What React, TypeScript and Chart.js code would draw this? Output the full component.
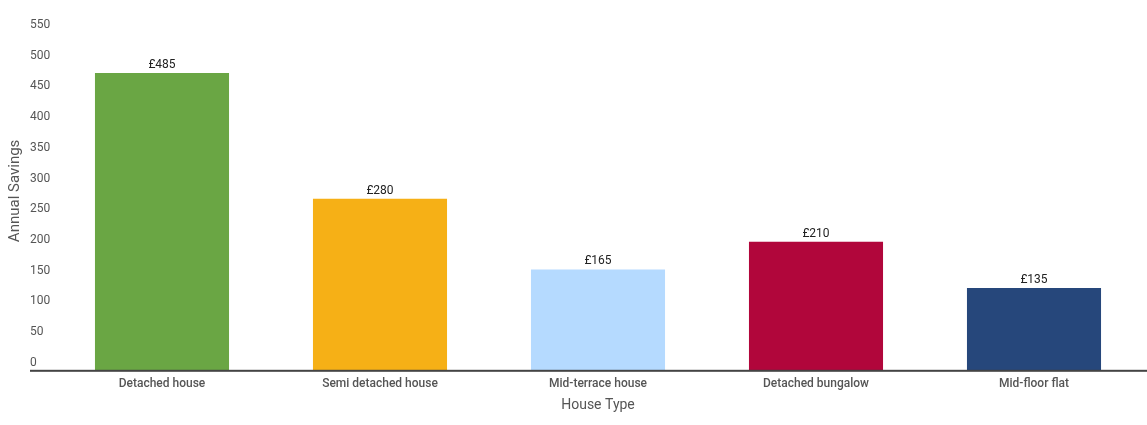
import React, { useEffect, useRef } from "react";
import { Chart, registerables, Plugin } from "chart.js";

Chart.register(...registerables);

const houseTypes = [
    "Detached house",
    "Semi detached house",
    "Mid-terrace house",
    "Detached bungalow",
    "Mid-floor flat",
];
const annualSavings = [485, 280, 165, 210, 135];
const barColours = ["#6aa644", "#f6b016", "#b5daff", "#b1063b", "#26477b"];
const yTicks = [0, 50, 100, 150, 200, 250, 300, 350, 400, 450, 500, 550];

const FONT = "Roboto, 'Noto Sans', sans-serif";

// value labels above bars, the long baseline and the y title
const extrasPlugin: Plugin<"bar"> = {
    id: "extras",
    afterDatasetsDraw(chart) {
        const { ctx } = chart;
        const y = chart.scales.y;
        const zeroY = y.getPixelForValue(0);

        ctx.save();
        ctx.fillStyle = "#444444";
        ctx.fillRect(30, zeroY - 1, chart.width - 30, 2);

        const meta = chart.getDatasetMeta(0);
        ctx.font = `12px ${FONT}`;
        ctx.fillStyle = "#222222";
        ctx.textAlign = "center";
        ctx.textBaseline = "middle";
        meta.data.forEach((bar, i) => {
            ctx.fillText(`£${annualSavings[i]}`, bar.x, bar.y - 8);
        });

        ctx.translate(15, (chart.chartArea.top + chart.chartArea.bottom) / 2 - 11);
        ctx.rotate(-Math.PI / 2);
        ctx.font = `15px ${FONT}`;
        ctx.fillStyle = "#555555";
        ctx.fillText("Annual Savings", 0, 0);
        ctx.restore();
    },
};

const App: React.FC = () => {
    const canvasRef = useRef<HTMLCanvasElement | null>(null);

    useEffect(() => {
        document.body.style.margin = "0";
        if (!canvasRef.current) return;
        const ctx = canvasRef.current.getContext("2d");
        if (!ctx) return;

        const chart = new Chart(ctx, {
            type: "bar",
            data: {
                labels: houseTypes,
                datasets: [
                    {
                        label: "Annual Savings",
                        data: annualSavings,
                        backgroundColor: barColours,
                        borderWidth: 0,
                        barPercentage: 0.615,
                        categoryPercentage: 1,
                    },
                ],
            },
            options: {
                animation: false,
                responsive: false,
                layout: {
                    padding: { left: 30, right: 4, top: 33, bottom: 11 },
                },
                plugins: {
                    legend: { display: false },
                    tooltip: { enabled: false },
                },
                scales: {
                    x: {
                        grid: { display: false, drawTicks: false },
                        border: { display: false },
                        ticks: {
                            padding: 6,
                            color: "#555555",
                            font: { family: FONT, size: 12, weight: 500 },
                        },
                        title: {
                            display: true,
                            text: "House Type",
                            color: "#555555",
                            font: { family: FONT, size: 14 },
                            padding: { top: 0, bottom: 0 },
                        },
                    },
                    y: {
                        min: 0,
                        max: 550,
                        afterBuildTicks: (scale) => {
                            scale.ticks = yTicks.map((v) => ({ value: v }));
                        },
                        afterFit: (scale) => {
                            scale.width = 23;
                        },
                        grid: { display: false, drawTicks: false },
                        border: { display: false },
                        ticks: {
                            crossAlign: "far",
                            labelOffset: -8,
                            padding: 0,
                            color: "#555555",
                            font: { family: FONT, size: 12 },
                        },
                    },
                },
            },
            plugins: [extrasPlugin],
        });

        return () => {
            chart.destroy();
        };
    }, []);

    return (
        <div style={{ width: 1147, height: 425 }}>
            <canvas ref={canvasRef} width={1147} height={425}></canvas>
        </div>
    );
};

export default App;
